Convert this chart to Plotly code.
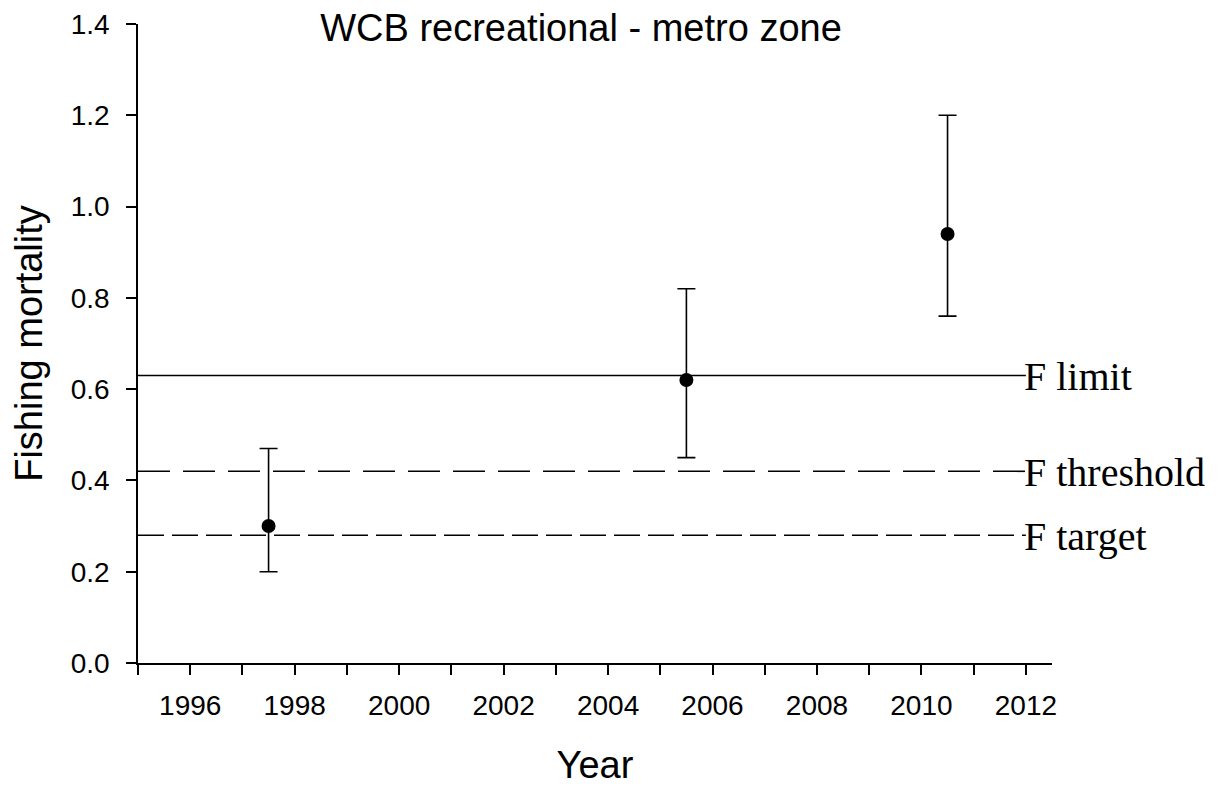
import plotly.graph_objects as go

# ---- data ----
years = [1997.5, 2005.5, 2010.5]
f_values = [0.30, 0.62, 0.94]
f_upper = [0.47, 0.82, 1.20]
f_lower = [0.20, 0.45, 0.76]

ref_labels = ["F limit", "F threshold", "F target"]
ref_values = [0.63, 0.42, 0.28]
ref_span = [1995, 2012]

x_range = [1995, 2012.5]
y_range = [0, 1.4]
x_tickvals = [1996, 1998, 2000, 2002, 2004, 2006, 2008, 2010, 2012]
y_tickvals = [0.0, 0.2, 0.4, 0.6, 0.8, 1.0, 1.2, 1.4]

ref_dash = ["solid", "32px,13px", "26px,8px"]

SANS = "Liberation Sans, Arial, Helvetica, sans-serif"
SERIF = "Liberation Serif, Times New Roman, serif"

W, H = 1210, 779  # page body has an 8px margin

fig = go.Figure()

for lab, val, dash in zip(ref_labels, ref_values, ref_dash):
    fig.add_trace(go.Scatter(
        x=ref_span, y=[val, val], mode="lines",
        line=dict(color="black", width=1.6, dash=dash),
        showlegend=False, hoverinfo="skip"))
    fig.add_annotation(
        x=ref_span[1], y=val, xref="x", yref="y", text=lab,
        showarrow=False, xanchor="left", yanchor="middle",
        xshift=-4, yshift=-1, font=dict(family=SERIF, size=40, color="black"))

err_plus = [u - v for u, v in zip(f_upper, f_values)]
err_minus = [v - l for v, l in zip(f_values, f_lower)]

fig.add_trace(go.Scatter(
    x=years, y=f_values, mode="markers",
    marker=dict(color="black", size=14),
    error_y=dict(type="data", symmetric=False, array=err_plus,
                 arrayminus=err_minus, color="black", thickness=1.6, width=9),
    showlegend=False))

fig.update_layout(
    width=W, height=H,
    margin=dict(l=130, r=166, t=16, b=124, autoexpand=False),
    plot_bgcolor="white", paper_bgcolor="white",
    font=dict(family=SANS, color="black"),
    title=dict(text="WCB recreational - metro zone", x=573 / W, xanchor="center",
               y=1 - 20 / H, yanchor="middle", automargin=False,
               font=dict(family=SANS, size=38, color="black")),
)

fig.update_xaxes(
    range=x_range, showline=True, linecolor="black", linewidth=1.6,
    showgrid=False, zeroline=False, automargin=False,
    ticks="outside", ticklen=10, tickwidth=1.6, tickcolor="black",
    tickvals=x_tickvals, tickfont=dict(family=SANS, size=28),
    ticklabelstandoff=7,
    minor=dict(dtick=1, tick0=1995, ticks="outside", ticklen=10, tickwidth=1.6,
               tickcolor="black", showgrid=False),
    title=dict(text="Year", font=dict(family=SANS, size=38), standoff=31),
)

fig.update_yaxes(
    range=y_range, showline=True, linecolor="black", linewidth=1.6,
    showgrid=False, zeroline=False, automargin=False,
    ticks="outside", ticklen=10, tickwidth=1.6, tickcolor="black",
    tickvals=y_tickvals, tickformat=".1f", tickfont=dict(family=SANS, size=28),
    ticklabelstandoff=11,
    title=dict(text="Fishing mortality", font=dict(family=SANS, size=38), standoff=20),
)

fig.write_html("out.html")
